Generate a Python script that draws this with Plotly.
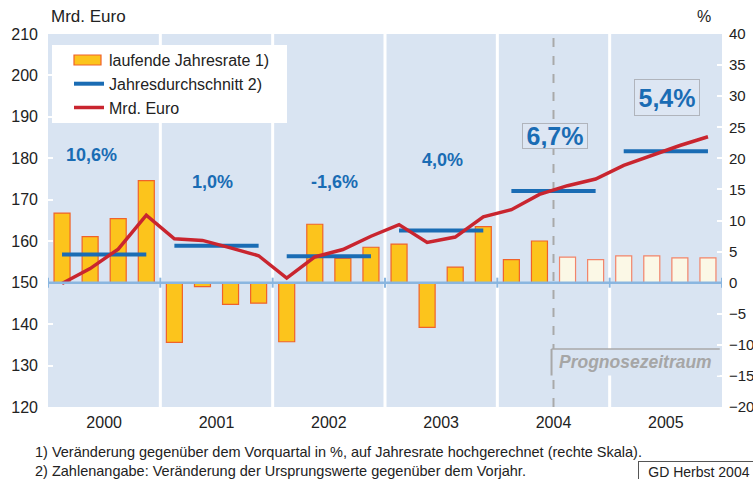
import plotly.graph_objects as go

# ---------------- data ----------------
years = ["2000", "2001", "2002", "2003", "2004", "2005"]
n_actual = 18  # quarters with actual data; rest is forecast
rate_pct = [11.2, 7.4, 10.3, 16.4,
            -9.6, -0.65, -3.5, -3.3,
            -9.5, 9.4, 3.9, 5.7,
            6.2, -7.2, 2.5, 9.0,
            3.7, 6.7, 4.1, 3.7,
            4.3, 4.3, 4.0, 4.0]
mrd_euro = [149.8, 153.4, 158.1, 166.3,
            160.6, 160.2, 158.4, 156.5,
            151.1, 156.2, 158.0, 161.2,
            164.0, 159.7, 161.0, 165.9,
            167.6, 171.3, 173.4, 175.0,
            178.3, 180.8, 183.1, 185.2]
year_avg = [156.8, 158.9, 156.4, 162.6, 172.1, 181.7]
year_labels = ["10,6%", "1,0%", "-1,6%", "4,0%", "6,7%", "5,4%"]

left_ticks = list(range(120, 211, 10))
right_ticks = list(range(-20, 41, 5))

# ---------------- styling / layout helpers ----------------
PANEL = "#d9e4f2"
BLUE = "#1a6cb4"
RED = "#c9252f"
FONT = "Liberation Sans, Arial, sans-serif"
label_y = [180.8, 174.3, 174.3, 179.6, 185.3, 194.6]
label_dx = [-0.45, -0.15, 0.2, 0.05, 0.05, 0.05]
label_size = [18, 18, 18, 18, 25, 25]
label_box_h = [None, None, None, None, 24, 35]

# page coordinates of the plot area
W, H = 753, 479
PL, PR, PT, PB = 48, 722, 34, 407


def px(x):
    return (x - PL) / (PR - PL)


def py(y):
    return (PB - y) / (PB - PT)


nq = len(rate_pct)
xq = list(range(nq))

fig = go.Figure()

# legend entry for bars (swatch drawn as a shape)
fig.add_trace(go.Scatter(x=[None], y=[None], mode="lines",
                         line=dict(color="rgba(0,0,0,0)", width=1),
                         name="laufende Jahresrate 1)", yaxis="y"))

# bars (base axis, percent, right)
fig.add_trace(go.Bar(
    x=xq[:n_actual], y=rate_pct[:n_actual], width=0.57,
    marker=dict(color="#fcc41c", line=dict(color="#f0622a", width=1.2)),
    name="laufende Jahresrate", yaxis="y", showlegend=False))
fig.add_trace(go.Bar(
    x=xq[n_actual:], y=rate_pct[n_actual:], width=0.57,
    marker=dict(color="#fbf8e6", line=dict(color="#f2846a", width=1.2)),
    name="Prognose", yaxis="y", showlegend=False))

# yearly averages (blue segments)
bx, by = [], []
for i, v in enumerate(year_avg):
    bx += [4 * i, 4 * i + 3, None]
    by += [v, v, None]
fig.add_trace(go.Scatter(x=bx, y=by, mode="lines", yaxis="y2",
                         line=dict(color=BLUE, width=4),
                         name="Jahresdurchschnitt 2)"))

# Mrd Euro line
fig.add_trace(go.Scatter(x=xq, y=mrd_euro, mode="lines", yaxis="y2",
                         line=dict(color=RED, width=3.5),
                         name="Mrd. Euro"))

shapes = []
# white separators between year panels
for i in range(1, len(years)):
    shapes.append(dict(type="line", xref="x", yref="paper",
                       x0=4 * i - 0.5, x1=4 * i - 0.5, y0=0, y1=1,
                       line=dict(color="white", width=3), layer="below"))
# forecast dashed line
shapes.append(dict(type="line", xref="x", yref="paper",
                   x0=n_actual - 0.5, x1=n_actual - 0.5, y0=0, y1=1,
                   line=dict(color="#a9a9a9", width=2, dash="dash"),
                   layer="below"))
# zero line with small ticks
shapes.append(dict(type="line", xref="x", yref="y", x0=-0.5, x1=nq - 0.5,
                   y0=0, y1=0, line=dict(color="#8ab6e0", width=2.5),
                   layer="above"))
for i in range(len(years) + 1):
    shapes.append(dict(type="line", xref="x", yref="y", ysizemode="pixel",
                       yanchor=0, x0=4 * i - 0.5, x1=4 * i - 0.5,
                       y0=-5, y1=5, line=dict(color="#8ab6e0", width=2),
                       layer="above"))
# Prognosezeitraum box
shapes.append(dict(type="rect", xref="x", yref="y2",
                   x0=n_actual - 0.57, x1=nq - 0.58, y0=127.6, y1=134.0,
                   fillcolor=PANEL, line=dict(width=0), layer="above"))
shapes.append(dict(type="line", xref="x", yref="y2",
                   x0=n_actual - 0.57, x1=nq - 0.58, y0=134.0, y1=134.0,
                   line=dict(color="#a8a8a8", width=1.5), layer="above"))
shapes.append(dict(type="line", xref="x", yref="y2",
                   x0=n_actual - 0.57, x1=n_actual - 0.57, y0=127.6, y1=134.0,
                   line=dict(color="#a8a8a8", width=2), layer="above"))
# legend white box and bar swatch
shapes.append(dict(type="rect", xref="paper", yref="paper",
                   x0=px(52), x1=px(287), y0=py(123), y1=py(45),
                   fillcolor="white", line=dict(width=0), layer="above"))
shapes.append(dict(type="rect", xref="paper", yref="paper",
                   x0=px(74), x1=px(101), y0=py(65), y1=py(55),
                   fillcolor="#fcc41c", line=dict(color="#f0622a", width=1.2),
                   layer="above"))

annotations = []
for i, t in enumerate(year_labels):
    a = dict(x=4 * i + 1.5 + label_dx[i], y=label_y[i], xref="x", yref="y2",
             text="<b>%s</b>" % t, showarrow=False,
             font=dict(family=FONT, size=label_size[i], color=BLUE))
    if label_box_h[i]:
        a.update(bgcolor="#dde6f3", bordercolor="#b0b4bc", borderwidth=1,
                 borderpad=0, width=64, height=label_box_h[i])
    annotations.append(a)

annotations.append(dict(x=(n_actual - 0.57 + nq - 0.58) / 2, y=130.8,
                        xref="x", yref="y2",
                        text="<b><i>Prognosezeitraum</i></b>", showarrow=False,
                        font=dict(family=FONT, size=17.5, color="#a6a6a6")))
annotations.append(dict(x=px(49), y=py(17), xref="paper", yref="paper",
                        xanchor="left", yanchor="middle", text="Mrd. Euro",
                        showarrow=False,
                        font=dict(family=FONT, size=17, color="#222")))
annotations.append(dict(x=px(704), y=py(17), xref="paper", yref="paper",
                        xanchor="center", yanchor="middle", text="%",
                        showarrow=False,
                        font=dict(family=FONT, size=16, color="#222")))
annotations.append(dict(x=px(33), y=py(452), xref="paper", yref="paper",
                        xanchor="left", yanchor="middle",
                        text="1) Veränderung gegenüber dem Vorquartal in %, auf Jahresrate hochgerechnet (rechte Skala).",
                        showarrow=False,
                        font=dict(family=FONT, size=14.5, color="#222")))
annotations.append(dict(x=px(33), y=py(471), xref="paper", yref="paper",
                        xanchor="left", yanchor="middle",
                        text="2) Zahlenangabe: Veränderung der Ursprungswerte gegenüber dem Vorjahr.",
                        showarrow=False,
                        font=dict(family=FONT, size=14.5, color="#222")))
annotations.append(dict(x=px(638), y=py(461), xref="paper", yref="paper",
                        xanchor="left", yanchor="top",
                        text="GD Herbst 2004", showarrow=False,
                        bgcolor="white", bordercolor="#555", borderwidth=1,
                        borderpad=2, width=116, align="center",
                        font=dict(family=FONT, size=14, color="#222")))

fig.update_layout(
    width=W, height=H,
    margin=dict(l=PL, r=W - PR, t=PT, b=H - PB, autoexpand=False),
    paper_bgcolor="white", plot_bgcolor=PANEL,
    font=dict(family=FONT, size=15, color="#222"),
    barmode="overlay",
    showlegend=True,
    legend=dict(x=px(69), y=py(43), xanchor="left", yanchor="top",
                bgcolor="rgba(0,0,0,0)", borderwidth=0,
                font=dict(family=FONT, size=16, color="#222"),
                itemwidth=30, tracegroupgap=0),
    xaxis=dict(range=[-0.5, nq - 0.5], automargin=False,
               tickmode="array",
               tickvals=[4 * i + 1.5 for i in range(len(years))],
               ticktext=years, ticks="", showgrid=False, zeroline=False,
               showline=False, ticklabelstandoff=4,
               tickfont=dict(size=16, color="#222")),
    yaxis=dict(range=[-20, 40], side="right", tickmode="array",
               automargin=False,
               tickvals=right_ticks, ticks="inside", ticklen=5,
               tickwidth=2, tickcolor="white", showgrid=False,
               zeroline=False, showline=False, ticklabelstandoff=6,
               tickfont=dict(size=15, color="#222")),
    yaxis2=dict(range=[120, 210], side="left", overlaying="y",
                automargin=False,
                tickmode="array", tickvals=left_ticks, ticks="inside",
                ticklen=5, tickwidth=2, tickcolor="white", showgrid=False,
                zeroline=False, showline=False, ticklabelstandoff=9,
                tickfont=dict(size=16, color="#222")),
    shapes=shapes, annotations=annotations,
)

fig.write_html(
    "out.html",
    config={"displayModeBar": False},
    post_script=("document.body.style.margin='0';"
                 "document.body.style.overflow='hidden';"
                 "document.documentElement.style.overflow='hidden';"),
)
